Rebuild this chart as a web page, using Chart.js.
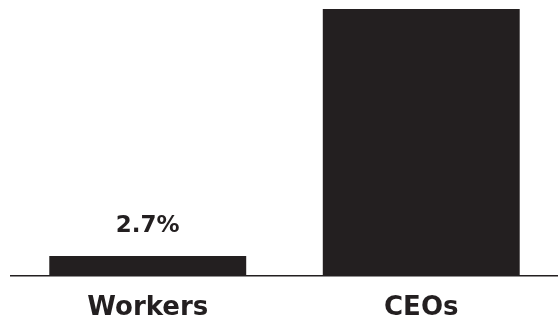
<!DOCTYPE html>
<html>
<head>
<meta charset="utf-8">
<script src="https://cdn.jsdelivr.net/npm/chart.js@4.4.1/dist/chart.umd.min.js"></script>
<style>
  html, body { margin: 0; padding: 0; background: #fff; }
  #wrap { width: 558px; height: 323px; }
</style>
</head>
<body>
<div id="wrap"><canvas id="chart" width="558" height="323"></canvas></div>
<script>
// data
const categories = ["Workers", "CEOs"];
const growth = [2.7, 36];
const valueLabels = ["2.7%", "36%"];

const barColor = "#231f20";
const fontFamily = "'DejaVu Sans', sans-serif";

// label above each bar
const barLabels = {
  id: "barLabels",
  afterDatasetsDraw(chart) {
    const ctx = chart.ctx;
    const meta = chart.getDatasetMeta(0);
    ctx.save();
    ctx.fillStyle = barColor;
    ctx.font = "bold 23px " + fontFamily;
    ctx.textAlign = "center";
    ctx.textBaseline = "middle";
    meta.data.forEach((bar, i) => {
      ctx.fillText(valueLabels[i], bar.x, bar.y - 30);
    });
    ctx.restore();
  }
};

const ctx = document.getElementById("chart").getContext("2d");
const chart = new Chart(ctx, {
  type: "bar",
  data: {
    labels: categories,
    datasets: [{
      data: growth,
      backgroundColor: barColor,
      borderWidth: 0,
      categoryPercentage: 0.72,
      barPercentage: 1.0
    }]
  },
  options: {
    responsive: false,
    animation: false,
    layout: { padding: { left: 11, right: 0, top: 9, bottom: 0 } },
    plugins: {
      legend: { display: false },
      tooltip: { enabled: false }
    },
    scales: {
      y: {
        display: false,
        min: 0,
        max: 36
      },
      x: {
        grid: { display: false, drawTicks: false },
        border: { display: true, color: "#231f20", width: 1.5 },
        ticks: {
          color: barColor,
          padding: 17,
          font: { family: fontFamily, size: 26, weight: "bold" }
        },
        afterFit(scale) {
          scale.height = 47;
        }
      }
    }
  },
  plugins: [barLabels]
});
</script>
</body>
</html>
